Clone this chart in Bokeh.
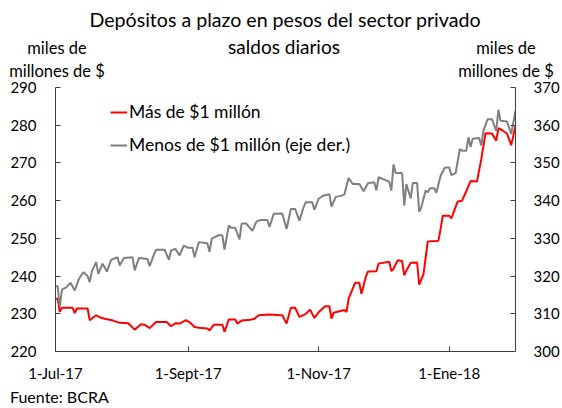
import pandas as pd
from bokeh.plotting import figure
from bokeh.layouts import column
from bokeh.models import Range1d, LinearAxis, FixedTicker, Legend, LegendItem, Div
from bokeh.embed import file_html
from bokeh.resources import INLINE

# ---- data ----
red_dates = ["2017-07-01","2017-07-02","2017-07-03","2017-07-04","2017-07-09","2017-07-10","2017-07-11",
             "2017-07-16","2017-07-17","2017-07-19","2017-07-20","2017-07-22","2017-07-24","2017-07-28",
             "2017-07-31","2017-08-04","2017-08-07","2017-08-10","2017-08-12","2017-08-14","2017-08-17",
             "2017-08-22","2017-08-24","2017-08-26","2017-08-28","2017-08-31","2017-09-02","2017-09-04",
             "2017-09-06","2017-09-10","2017-09-11","2017-09-13","2017-09-17","2017-09-18","2017-09-20",
             "2017-09-23","2017-09-24","2017-09-26","2017-09-30","2017-10-02","2017-10-04","2017-10-09",
             "2017-10-14","2017-10-15","2017-10-17","2017-10-19","2017-10-21","2017-10-23","2017-10-26",
             "2017-10-28","2017-10-30","2017-11-01","2017-11-04","2017-11-06","2017-11-07","2017-11-08",
             "2017-11-13","2017-11-14","2017-11-15","2017-11-18","2017-11-20","2017-11-21","2017-11-23",
             "2017-11-24","2017-11-28","2017-11-29","2017-12-04","2017-12-05","2017-12-06","2017-12-08",
             "2017-12-10","2017-12-11","2017-12-12","2017-12-14","2017-12-17","2017-12-18","2017-12-20",
             "2017-12-22","2017-12-26","2017-12-27","2017-12-28","2017-12-29","2018-01-01","2018-01-02",
             "2018-01-05","2018-01-07","2018-01-09","2018-01-11","2018-01-14","2018-01-16","2018-01-18",
             "2018-01-21","2018-01-23","2018-01-24","2018-01-26","2018-01-28","2018-01-30","2018-02-01"]
red_values = [234.0, 234.0, 230.5, 231.6, 231.6, 230.2, 231.4,
              231.4, 228.3, 229.2, 229.6, 229.0, 228.7, 228.2,
              227.6, 227.5, 225.8, 227.2, 227.0, 226.2, 227.8,
              227.8, 226.7, 227.5, 227.4, 228.3, 227.6, 226.5,
              226.3, 226.1, 225.6, 227.1, 227.1, 225.2, 228.5,
              228.5, 227.4, 228.2, 228.4, 228.7, 229.6, 229.8,
              229.6, 229.6, 227.4, 231.6, 231.6, 229.2, 230.0,
              231.1, 228.9, 230.4, 232.0, 232.0, 228.7, 230.3,
              231.0, 230.5, 234.0, 238.2, 238.2, 235.3, 239.7,
              241.2, 241.3, 243.3, 243.8, 241.3, 242.0, 244.2,
              244.0, 240.2, 241.5, 243.5, 243.6, 237.7, 240.5,
              249.2, 249.3, 249.4, 252.5, 256.0, 256.0, 255.3,
              259.8, 260.0, 262.5, 265.2, 265.1, 271.0, 277.9,
              277.8, 275.9, 279.2, 278.6, 277.8, 274.7, 279.9]

gray_dates = ["2017-07-01","2017-07-02","2017-07-03","2017-07-04","2017-07-06","2017-07-08","2017-07-10",
              "2017-07-12","2017-07-14","2017-07-16","2017-07-17","2017-07-18","2017-07-20","2017-07-21",
              "2017-07-23","2017-07-25","2017-07-27","2017-07-30","2017-07-31","2017-08-02","2017-08-06",
              "2017-08-07","2017-08-09","2017-08-13","2017-08-14","2017-08-16","2017-08-17","2017-08-21",
              "2017-08-23","2017-08-24","2017-08-26","2017-08-28","2017-08-30","2017-09-01","2017-09-03",
              "2017-09-04","2017-09-06","2017-09-10","2017-09-11","2017-09-12","2017-09-15","2017-09-17",
              "2017-09-18","2017-09-20","2017-09-21","2017-09-23","2017-09-25","2017-09-26","2017-09-28",
              "2017-10-01","2017-10-03","2017-10-05","2017-10-08","2017-10-09","2017-10-11","2017-10-15",
              "2017-10-17","2017-10-19","2017-10-21","2017-10-23","2017-10-25","2017-10-26","2017-10-29",
              "2017-10-30","2017-11-01","2017-11-03","2017-11-06","2017-11-07","2017-11-09","2017-11-11",
              "2017-11-13","2017-11-15","2017-11-17","2017-11-20","2017-11-22","2017-11-24","2017-11-27",
              "2017-11-28","2017-11-29","2017-12-02","2017-12-04","2017-12-05","2017-12-06","2017-12-07",
              "2017-12-10","2017-12-11","2017-12-12","2017-12-14","2017-12-15","2017-12-17","2017-12-18",
              "2017-12-19","2017-12-21","2017-12-22","2017-12-23","2017-12-25","2017-12-26","2017-12-28",
              "2017-12-30","2018-01-01","2018-01-02","2018-01-04","2018-01-06","2018-01-07","2018-01-09",
              "2018-01-10","2018-01-11","2018-01-12","2018-01-15","2018-01-16","2018-01-17","2018-01-19",
              "2018-01-21","2018-01-23","2018-01-24","2018-01-25","2018-01-28","2018-01-30","2018-02-01"]
gray_values = [317.3, 317.3, 311.8, 316.4, 317.0, 318.2, 316.2,
               319.3, 321.0, 320.0, 318.4, 321.3, 323.7, 320.6,
               323.3, 321.2, 324.3, 325.0, 322.8, 324.8, 325.0,
               321.5, 324.8, 324.5, 322.6, 325.7, 327.0, 327.0,
               324.3, 326.8, 327.2, 325.5, 328.1, 327.5, 327.5,
               325.0, 329.0, 328.7, 326.4, 329.9, 330.8, 330.8,
               327.0, 333.4, 332.8, 332.8, 329.7, 333.9, 334.0,
               332.0, 334.5, 334.9, 334.9, 333.0, 336.5, 336.6,
               332.5, 337.8, 337.8, 334.7, 338.3, 339.6, 339.6,
               337.6, 340.5, 341.3, 341.7, 338.4, 341.0, 341.2,
               341.6, 346.0, 344.4, 344.4, 342.5, 344.6, 344.9,
               342.7, 346.2, 345.5, 345.0, 342.7, 349.6, 347.3,
               347.3, 338.7, 344.4, 340.6, 344.7, 344.7, 337.0,
               338.3, 342.7, 342.2, 343.3, 343.3, 342.1, 346.6,
               348.8, 348.8, 346.8, 347.3, 353.7, 353.2, 353.2,
               356.8, 354.2, 356.4, 356.6, 354.6, 358.5, 361.6,
               361.6, 358.5, 364.1, 361.2, 361.0, 357.7, 363.8]

tick_dates = ["2017-07-01", "2017-09-01", "2017-11-01", "2018-01-01"]
tick_labels = ["1-Jul-17", "1-Sept-17", "1-Nov-17", "1-Ene-18"]
left_ticks = [220, 230, 240, 250, 260, 270, 280, 290]
right_ticks = [300, 310, 320, 330, 340, 350, 360, 370]

title_line1 = "Depósitos a plazo en pesos del sector privado"
title_line2 = "saldos diarios"
unit_line1 = "miles de"
unit_line2 = "millones de $"
source_text = "Fuente: BCRA"
red_name = "Más de $1 millón"
gray_name = "Menos de $1 millón (eje der.)"

RED = "#FF0000"
GRAY = "#7F7F7F"
AX = "#404040"
FONT = "Lato"
W = 562
TOP_H, MAIN_H, BOT_H = 79, 305, 24


def span(text, x, y, size, centered=True):
    tx = "-50%" if centered else "0"
    return (f'<span style="position:absolute;left:{x}px;top:{y}px;'
            f'transform:translate({tx},-50%);font-size:{size};line-height:1.1;'
            f'white-space:nowrap;">{text}</span>')


def text_strip(height, spans):
    html = (f'<div style="position:relative;width:{W}px;height:{height}px;overflow:visible;'
            f'font-family:{FONT};color:#000000;margin:0;padding:0;">' + "".join(spans) + '</div>')
    return Div(text=html, width=W, height=height, margin=0, styles={"margin": "0", "padding": "0"})


# ---- top strip: title and axis units (positions in page pixels) ----
top = text_strip(TOP_H, [
    span(title_line1, 285, 20, "19.6px"),
    span(title_line2, 284, 47, "19px"),
    span(unit_line1, 57, 48, "16.5px"),
    span(unit_line2, 57, 71, "16.5px"),
    span(unit_line1, 506, 48, "16.5px"),
    span(unit_line2, 506, 71, "16.5px"),
])

# ---- main chart ----
p = figure(width=W, height=MAIN_H, x_axis_type="datetime",
           x_range=Range1d(pd.Timestamp("2017-07-01"), pd.Timestamp("2018-02-01")),
           y_range=Range1d(220, 290),
           output_backend="svg", toolbar_location=None, margin=0,
           min_border_left=55, min_border_right=45, min_border_top=8, min_border_bottom=32)
p.extra_y_ranges = {"right": Range1d(300, 370)}
p.outline_line_color = None
p.xgrid.grid_line_color = None
p.ygrid.grid_line_color = None

r_red = p.line(pd.to_datetime(red_dates), red_values, line_color=RED, line_width=2)
r_gray = p.line(pd.to_datetime(gray_dates), gray_values, line_color=GRAY, line_width=2,
                y_range_name="right")

right_axis = LinearAxis(y_range_name="right")
p.add_layout(right_axis, "right")

tick_ms = [pd.Timestamp(d).value / 1e6 for d in tick_dates]
p.xaxis.ticker = FixedTicker(ticks=tick_ms)
p.xaxis.major_label_overrides = {t: l for t, l in zip(tick_ms, tick_labels)}
p.yaxis[0].ticker = FixedTicker(ticks=left_ticks)
right_axis.ticker = FixedTicker(ticks=right_ticks)

for ax in [p.xaxis[0], p.yaxis[0], right_axis]:
    ax.axis_line_color = AX
    ax.axis_line_width = 1
    ax.major_tick_line_color = AX
    ax.major_tick_in = 5
    ax.major_tick_out = 0
    ax.minor_tick_line_color = None
    ax.major_label_text_font = FONT
    ax.major_label_text_font_size = "15px"
    ax.major_label_text_color = "#000000"
p.yaxis[0].major_label_standoff = 19
right_axis.major_label_standoff = 18
p.xaxis[0].major_label_standoff = 12

legend = Legend(items=[LegendItem(label=red_name, renderers=[r_red]),
                       LegendItem(label=gray_name, renderers=[r_gray])],
                location=(55, 196), orientation="vertical",
                glyph_width=17, glyph_height=20, label_height=20, label_standoff=2,
                spacing=12, padding=0, margin=0,
                border_line_color=None, background_fill_alpha=0,
                label_text_font=FONT, label_text_font_size="17.5px", label_text_color="#000000")
p.add_layout(legend)

# ---- bottom strip: source ----
bot = text_strip(BOT_H, [span(source_text, 10, 13, "16px", centered=False)])

layout = column(top, p, bot, spacing=0)
open("out.html", "w").write(file_html(layout, INLINE))
